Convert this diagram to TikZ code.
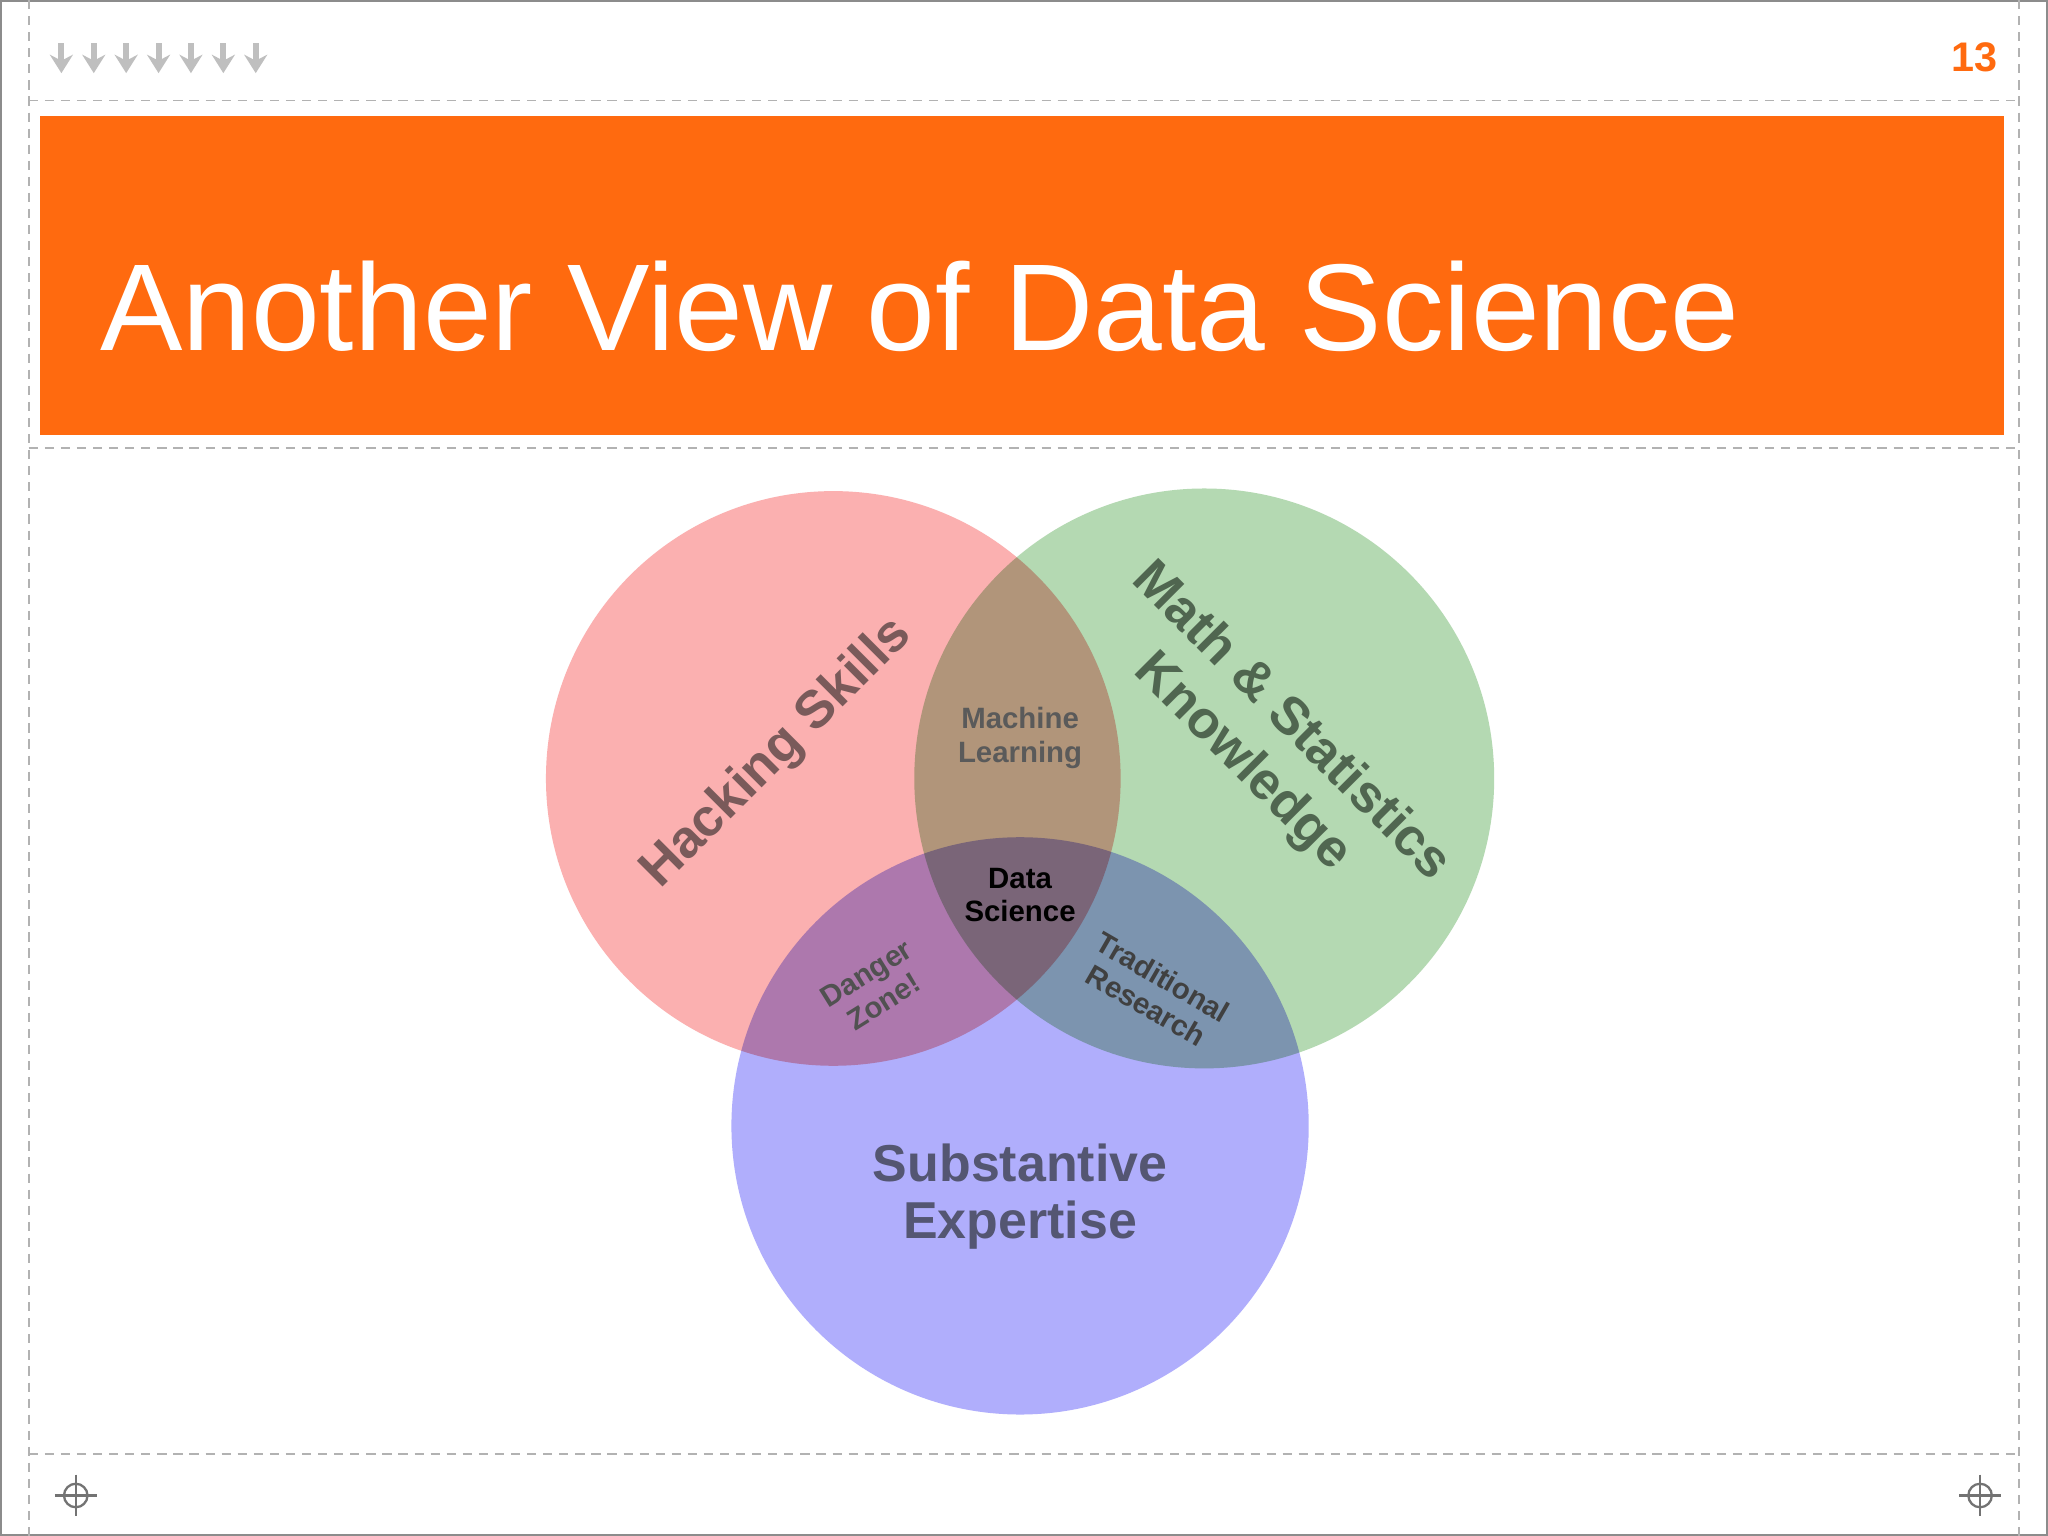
\documentclass[tikz,border=0pt]{standalone}
\usepackage{fontspec}
\setmainfont{Liberation Sans}
\usetikzlibrary{arrows.meta}
\definecolor{orng}{HTML}{FF6A0F}
\definecolor{lab}{HTML}{5A5A5A}
\definecolor{sublab}{HTML}{545672}
\definecolor{hacklab}{HTML}{7A5A5A}
\definecolor{mathlab}{HTML}{506650}
\definecolor{cR}{HTML}{FBB0B0}
\definecolor{cG}{HTML}{B4D9B2}
\definecolor{cB}{HTML}{B0AEFC}
\tikzset{
  dl/.style={draw=black!30,dashed,dash pattern=on 2pt off 1.5pt,line width=0.4pt},
  big/.style={font=\bfseries\fontsize{11.5}{13}\selectfont,text=lab,align=center},
  small/.style={font=\bfseries\fontsize{6.4}{7.2}\selectfont,text=lab,align=center},
  cross/.style={draw=black!55,line width=0.5pt},
  darr/.style={draw=black!25,line width=1.3pt,-{Stealth[length=4pt,width=5pt]}}
}
\newcommand{\crosshair}[2]{%
  \draw[cross] (#1,#2) circle (9);
  \draw[cross] (#1-16,#2) -- (#1+16,#2) (#1,#2-16) -- (#1,#2+16);}
\begin{document}
\begin{tikzpicture}[x=0.01cm,y=-0.01cm]
\useasboundingbox (0,0) rectangle (1568,1176);
\fill[white] (0,0) rectangle (1568,1176);
\draw[black!45,line width=0.8pt] (0.5,0.5) rectangle (1567.5,1175.5);
% dashed frame lines
\draw[dl] (22,77) -- (1546,77);
\draw[dl] (22,343) -- (1546,343);
\draw[dl] (22,1113) -- (1546,1113);
\draw[dl] (22,0) -- (22,1176);
\draw[dl] (1546,0) -- (1546,1176);
% top arrows
\foreach \i in {0,...,6} {\draw[darr] (47+\i*24.8,33) -- (47+\i*24.8,56);}
\node[font=\bfseries\fontsize{9}{10}\selectfont,text=orng] (num) at (1512,44) {13};
% title bar
\fill[orng] (31,89) rectangle (1534,333);
\node[anchor=base west,text=white,font=\fontsize{26.9}{29}\selectfont,inner sep=0] (title) at (76,268) {Another View of Data Science};
% venn
\begin{scope}[blend group=multiply]
\fill[cR] (638,596) circle (220);
\fill[cG] (922,596) circle (222);
\fill[cB] (781,862) circle (221);
\end{scope}
\node[big,rotate=45,text=hacklab] (hack) at (595,577) {Hacking Skills};
\node[big,rotate=-45,text=mathlab] (math) at (991,550) {Math \& Statistics};
\node[big,rotate=-45,text=mathlab] (know) at (951,584) {Knowledge};
\node[big,font=\bfseries\fontsize{11.3}{12.3}\selectfont,text=sublab] (sub) at (781,916) {Substantive\\Expertise};
\node[small] (ml) at (781,565) {Machine\\Learning};
\node[small,text=black] (ds) at (781,685) {Data\\Science};
\node[small,rotate=32,text=lab!90!black] (dz) at (670,756) {Danger\\Zone!};
\node[small,rotate=-30,text=black!75] (tr) at (884,759) {Traditional\\Research};
\crosshair{58}{1145}
\crosshair{1516}{1145}
\end{tikzpicture}
\end{document}
